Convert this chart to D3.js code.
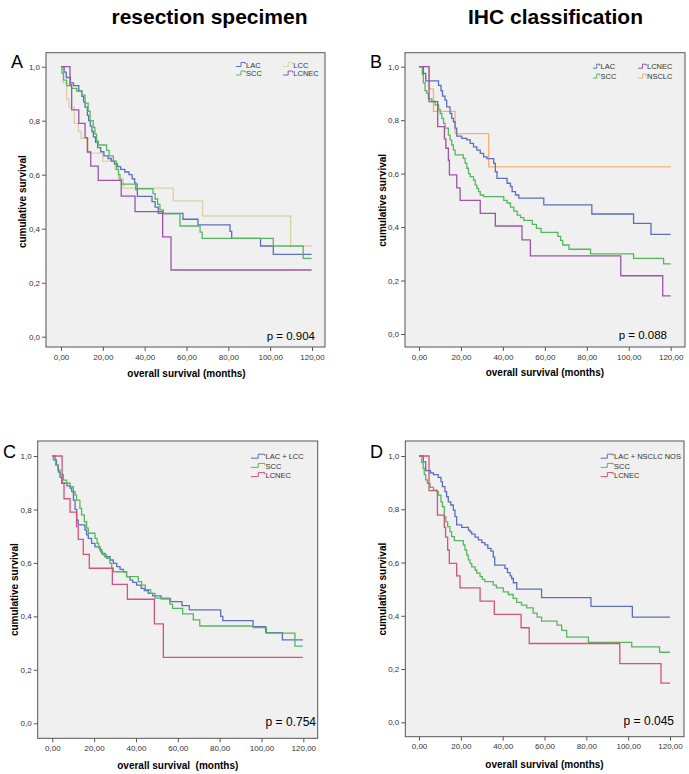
<!DOCTYPE html>
<html><head><meta charset="utf-8">
<script src="https://cdn.jsdelivr.net/npm/d3@7"></script>
<style>
body{margin:0;background:#fff}
svg{display:block}
text{font-family:"Liberation Sans",Arial,Helvetica,sans-serif}
</style>
</head><body>
<svg id="chart" width="689" height="774"></svg>
<script>
// ---------- axis ticks ----------
const xTicks = [0, 20, 40, 60, 80, 100, 120];
const yTicks = [0, 0.2, 0.4, 0.6, 0.8, 1.0];

// ---------- titles / labels ----------
const columnTitles = ["resection specimen", "IHC classification"];
const panelLetters = ["A", "B", "C", "D"];
const pValues = ["p = 0.904", "p = 0.088", "p = 0.754", "p = 0.045"];
const legendA = ["LAC", "SCC", "LCC", "LCNEC"];
const legendB = ["LAC", "SCC", "LCNEC", "NSCLC"];
const legendC = ["LAC + LCC", "SCC", "LCNEC"];
const legendD = ["LAC + NSCLC NOS", "SCC", "LCNEC"];

// ---------- Panel A (resection specimen) ----------
const A_LAC_t = [0,1.5,2.5,4.5,6,8.5,10,10.8,11.5,12.6,13.2,14,14.8,15.5,16.5,17.5,19,20.5,22.5,24,25.5,27,28.5,30.5,32.5,34,35.2,35.8,36.5,43.5,45,46.5,58.3,65.5,80.8,81.6,95.4,101.5,119.8];
const A_LAC_s = [1,0.98,0.96,0.94,0.93,0.91,0.89,0.87,0.85,0.82,0.80,0.78,0.76,0.74,0.72,0.70,0.685,0.67,0.66,0.65,0.64,0.63,0.62,0.61,0.60,0.585,0.57,0.545,0.52,0.50,0.48,0.457,0.435,0.414,0.39,0.364,0.336,0.305,0.305];
const A_SCC_t = [0,0.5,1.2,2.7,5,7.5,9.9,11.5,13,13.9,15.4,16.2,17,17.8,21.8,23,25,26.5,27.5,28.2,29,36.5,44,45,46.2,47.3,48.9,56.9,66.5,67.5,101.5,115.8,119.8];
const A_SCC_s = [1,0.975,0.95,0.93,0.92,0.91,0.895,0.865,0.835,0.80,0.775,0.75,0.725,0.71,0.69,0.67,0.65,0.62,0.60,0.58,0.565,0.548,0.53,0.51,0.49,0.47,0.455,0.41,0.387,0.364,0.336,0.29,0.29];
const A_LCC_t = [0,1.1,2.7,3.8,6.4,8.3,9.6,13,20,25.8,27.4,29.8,53.7,67.7,109.8,119.8];
const A_LCC_s = [1,0.94,0.88,0.85,0.79,0.76,0.735,0.68,0.65,0.62,0.585,0.55,0.503,0.447,0.336,0.336];
const A_LCNEC_t = [0,4.3,5.1,8.5,11.5,12.6,14.2,17.8,28.8,35.4,48.6,52.6,119.8];
const A_LCNEC_s = [1,0.933,0.84,0.79,0.737,0.684,0.632,0.579,0.521,0.463,0.37,0.247,0.247];

// ---------- Panel B (IHC classification) ----------
const B_LAC_t = [0,2.1,3.2,9.3,10.5,11.2,12.4,13.2,14.8,15.6,16.4,17.2,18,20.4,22.8,24.4,26,27.6,29.2,30.8,32.4,35.6,36.4,37.2,42,43.6,44.4,46,47.6,59.5,82.4,102.3,110.6,120];
const B_LAC_s = [1,0.975,0.947,0.93,0.91,0.89,0.875,0.85,0.825,0.807,0.794,0.77,0.74,0.732,0.726,0.713,0.70,0.688,0.676,0.663,0.656,0.638,0.607,0.582,0.564,0.551,0.533,0.52,0.508,0.483,0.449,0.414,0.373,0.373];
const B_SCC_t = [0,1.6,2.1,2.9,3.7,4.5,6.1,7.7,9.3,10.1,10.9,11.7,12.4,14,14.8,15.6,16.4,17.2,21.1,22,22.8,23.6,24.4,26,26.8,27.6,28.4,29.2,30.8,40.4,42,43.6,45.2,46.8,48.4,50,54,56,58.2,66.2,67.5,68.5,71.5,81.8,102.3,116.6,120];
const B_SCC_s = [1,0.97,0.94,0.91,0.90,0.88,0.87,0.857,0.84,0.825,0.807,0.788,0.77,0.744,0.726,0.707,0.688,0.67,0.657,0.638,0.62,0.60,0.589,0.576,0.557,0.545,0.533,0.52,0.514,0.50,0.49,0.475,0.46,0.445,0.435,0.425,0.41,0.395,0.38,0.365,0.35,0.333,0.317,0.30,0.283,0.262,0.262];
const B_LCNEC_t = [0,4.8,8.9,12.1,12.8,14,14.5,18,19.6,29.2,36.4,49.1,53.1,96.2,116.2,120];
const B_LCNEC_s = [1,0.869,0.776,0.73,0.695,0.65,0.595,0.547,0.50,0.451,0.404,0.352,0.292,0.218,0.143,0.143];
const B_NSCLC_t = [0,4.8,6.9,17.2,33.2,120];
const B_NSCLC_s = [1,0.917,0.833,0.75,0.625,0.625];

// ---------- Panel C ----------
const C_LAC_t = [0,1.3,2,2.9,3.7,4.5,7,8.5,9.3,10.1,10.9,11.7,12.4,15.6,16.4,17.2,18.8,20.4,22.8,23.6,25.2,27.6,29.2,30.8,32.4,34,35.5,37.2,38.5,40.3,42.5,44,45.9,48,52,56.5,62,65.5,80.5,81.5,96,102,110,119.8];
const C_LAC_s = [1,0.985,0.966,0.94,0.92,0.898,0.888,0.88,0.867,0.835,0.80,0.76,0.742,0.723,0.705,0.692,0.673,0.66,0.65,0.636,0.623,0.611,0.598,0.586,0.576,0.567,0.549,0.536,0.527,0.517,0.505,0.496,0.486,0.477,0.466,0.455,0.44,0.424,0.40,0.384,0.362,0.339,0.312,0.312];
const C_SCC_t = [0,0.5,1.6,2.6,3.7,5.3,6.9,8.5,10.1,10.9,11.6,13.2,14,15.3,16.4,17.2,20.4,21.4,22.2,23,24,26,27.6,28.4,29.2,35.5,41.1,42.7,44.5,47,49.1,56.2,57.5,62.3,67.4,70.5,96,102.4,116,119.8];
const C_SCC_s = [1,0.985,0.966,0.948,0.93,0.91,0.898,0.885,0.867,0.854,0.835,0.804,0.78,0.754,0.73,0.711,0.692,0.673,0.655,0.642,0.63,0.617,0.598,0.58,0.567,0.549,0.53,0.517,0.50,0.486,0.468,0.446,0.43,0.409,0.387,0.364,0.358,0.337,0.289,0.289];
const C_LCNEC_t = [0,4.7,5.6,8.5,11.6,12.4,14.8,17.7,28.7,35.9,48.8,53.1,119.8];
const C_LCNEC_s = [1,0.898,0.84,0.79,0.736,0.688,0.632,0.58,0.52,0.464,0.372,0.247,0.247];

// ---------- Panel D ----------
const D_LAC_t = [0,2.1,3.2,5.5,6.9,9.2,10.5,11.2,12.4,13.2,14,15.2,16.4,17.2,18,20.4,23.6,24.4,25.2,26.8,28.4,30,31.5,32.9,34.4,35.5,36.2,41.1,42.3,43.5,44.3,45.1,46.7,58.6,82.2,102,110,120];
const D_LAC_s = [1,0.978,0.945,0.937,0.93,0.92,0.904,0.885,0.866,0.847,0.828,0.816,0.797,0.772,0.741,0.732,0.722,0.715,0.707,0.695,0.685,0.675,0.666,0.653,0.643,0.62,0.59,0.578,0.562,0.55,0.54,0.524,0.50,0.468,0.435,0.395,0.395];
const D_SCC_t = [0,1.3,2,2.5,3.2,4,5.3,6.9,8.5,9.2,10.5,11.2,12.1,12.8,13.7,14.8,15.6,16.9,21.2,22,22.8,23.6,24.4,25.2,26.8,27.6,29.2,30.3,31.5,35.5,37,40.3,42.7,45,46.7,49,51.5,54.6,56.5,58.6,66,68.2,70.6,81,101.7,115,120];
const D_SCC_s = [1,0.975,0.954,0.93,0.91,0.897,0.882,0.872,0.866,0.853,0.828,0.81,0.772,0.753,0.735,0.716,0.697,0.682,0.666,0.647,0.628,0.61,0.597,0.584,0.572,0.56,0.547,0.537,0.528,0.515,0.505,0.49,0.48,0.465,0.45,0.44,0.43,0.41,0.395,0.38,0.365,0.345,0.32,0.30,0.283,0.263,0.263];
const D_LCNEC_t = [0,4.8,8.8,12.1,12.7,13.7,14.5,18,19.6,29.2,36,48.8,52.7,96,115.7,120];
const D_LCNEC_s = [1,0.87,0.778,0.732,0.695,0.647,0.597,0.55,0.505,0.455,0.405,0.355,0.296,0.22,0.147,0.147];

// ---------- colours ----------
const COL = {LAC:"#5b6fbd", SCC:"#56b85e", LCC:"#d9d2a6", LCNEC:"#9c55a6", NSCLC:"#f4b26a", LCNEC2:"#d4527e"};

const zip = (t, s) => t.map((v, i) => [v, s[i]]);
const svg = d3.select("#chart");
const tickFont = '"Liberation Sans Narrow","Arial Narrow","Liberation Sans",Arial,sans-serif';

// column titles
svg.append("text").attr("x", 209.5).attr("y", 24).attr("text-anchor", "middle")
  .attr("font-size", 21).attr("font-weight", "bold").text(columnTitles[0]);
svg.append("text").attr("x", 555.5).attr("y", 24).attr("text-anchor", "middle")
  .attr("font-size", 21).attr("font-weight", "bold").text(columnTitles[1]);

const panels = [
  { letter: panelLetters[0], lx: 11, ly: 68, f: [46, 325, 52.7, 347], xr: [61, 312], yr: [336.7, 66.7],
    ytx: 22.5, xty: 377, xtitle: "overall survival (months)", p: pValues[0], px: 315, py: 340, pf: 11.5,
    series: [
      { t: A_LCC_t, s: A_LCC_s, c: COL.LCC },
      { t: A_LAC_t, s: A_LAC_s, c: COL.LAC },
      { t: A_SCC_t, s: A_SCC_s, c: COL.SCC },
      { t: A_LCNEC_t, s: A_LCNEC_s, c: COL.LCNEC }],
    legend: [
      { label: legendA[0], c: COL.LAC, ix: 236, tx: 246, y: 65 },
      { label: legendA[1], c: COL.SCC, ix: 236, tx: 246, y: 73.5 },
      { label: legendA[2], c: COL.LCC, ix: 283, tx: 293.3, y: 65 },
      { label: legendA[3], c: COL.LCNEC, ix: 283, tx: 293.3, y: 73.5 }] },
  { letter: panelLetters[1], lx: 370, ly: 68, f: [405, 685, 52.7, 347], xr: [419, 670.7], yr: [334, 66.7],
    ytx: 382, xty: 376, xtitle: "overall survival (months)", p: pValues[1], px: 667, py: 339, pf: 11.5,
    series: [
      { t: B_NSCLC_t, s: B_NSCLC_s, c: COL.NSCLC },
      { t: B_LAC_t, s: B_LAC_s, c: COL.LAC },
      { t: B_SCC_t, s: B_SCC_s, c: COL.SCC },
      { t: B_LCNEC_t, s: B_LCNEC_s, c: COL.LCNEC }],
    legend: [
      { label: legendB[0], c: COL.LAC, ix: 593, tx: 600.5, y: 66.7 },
      { label: legendB[1], c: COL.SCC, ix: 593, tx: 600.5, y: 76.5 },
      { label: legendB[2], c: COL.LCNEC, ix: 638, tx: 647, y: 66.7 },
      { label: legendB[3], c: COL.NSCLC, ix: 638, tx: 647, y: 76.5 }] },
  { letter: panelLetters[2], lx: 3, ly: 458, f: [37.7, 317.7, 441, 738.3], xr: [52.3, 303.3], yr: [723.3, 456],
    ytx: 14, xty: 769, xtitle: "overall survival\u00A0 (months)", p: pValues[2], px: 316, py: 726, pf: 12,
    series: [
      { t: C_LAC_t, s: C_LAC_s, c: COL.LAC },
      { t: C_SCC_t, s: C_SCC_s, c: COL.SCC },
      { t: C_LCNEC_t, s: C_LCNEC_s, c: COL.LCNEC2 }],
    legend: [
      { label: legendC[0], c: COL.LAC, ix: 251, tx: 265.5, y: 456.7 },
      { label: legendC[1], c: COL.SCC, ix: 251, tx: 265.5, y: 465.9 },
      { label: legendC[2], c: COL.LCNEC2, ix: 251, tx: 265.5, y: 475.1 }] },
  { letter: panelLetters[3], lx: 370, ly: 458, f: [405.3, 684, 441, 736.7], xr: [419, 670], yr: [722.3, 456],
    ytx: 382, xty: 768, xtitle: "overall survival (months)", p: pValues[3], px: 674, py: 725, pf: 12,
    series: [
      { t: D_LAC_t, s: D_LAC_s, c: COL.LAC },
      { t: D_SCC_t, s: D_SCC_s, c: COL.SCC },
      { t: D_LCNEC_t, s: D_LCNEC_s, c: COL.LCNEC2 }],
    legend: [
      { label: legendD[0], c: COL.LAC, ix: 600.7, tx: 614, y: 456.7 },
      { label: legendD[1], c: COL.SCC, ix: 600.7, tx: 614, y: 465.9 },
      { label: legendD[2], c: COL.LCNEC2, ix: 600.7, tx: 614, y: 475.1 }] }
];

panels.forEach(p => {
  const [fx0, fx1, fy0, fy1] = p.f;
  const g = svg.append("g");
  const x = d3.scaleLinear().domain([0, 120]).range(p.xr);
  const y = d3.scaleLinear().domain([0, 1]).range(p.yr);

  g.append("rect").attr("x", fx0).attr("y", fy0).attr("width", fx1 - fx0).attr("height", fy1 - fy0)
    .attr("fill", "#f0f0f0").attr("stroke", "#555").attr("stroke-width", 1);

  const ya = g.append("g").attr("transform", `translate(${fx0},0)`)
    .call(d3.axisLeft(y).tickValues(yTicks).tickSize(4).tickPadding(2)
      .tickFormat(d => d3.format(".1f")(d).replace(".", ",")));
  const xa = g.append("g").attr("transform", `translate(0,${fy1})`)
    .call(d3.axisBottom(x).tickValues(xTicks).tickSize(4).tickPadding(3)
      .tickFormat(d => d3.format(".2f")(d).replace(".", ",")));
  [ya, xa].forEach(a => {
    a.select(".domain").remove();
    a.selectAll(".tick line").attr("stroke", "#555");
    a.selectAll(".tick text").attr("font-size", 8).attr("fill", "#333").style("font-family", tickFont);
  });

  const line = d3.line().x(d => x(d[0])).y(d => y(d[1])).curve(d3.curveStepAfter);
  p.series.forEach(s => {
    g.append("path").attr("d", line(zip(s.t, s.s))).attr("fill", "none")
      .attr("stroke", s.c).attr("stroke-width", 1.3);
  });

  p.legend.forEach(l => {
    const yc = l.y;
    g.append("path")
      .attr("d", `M${l.ix},${yc + 1.5}H${l.ix + (l.tx - l.ix) * 0.5}V${yc - 2.5}H${l.tx - 0.8}V${yc - 1}`)
      .attr("fill", "none").attr("stroke", l.c).attr("stroke-width", 1);
    g.append("text").attr("x", l.tx).attr("y", yc + 2.7).attr("font-size", 7.5).attr("fill", "#333")
      .style("font-family", tickFont).text(l.label);
  });

  g.append("text").attr("x", p.lx).attr("y", p.ly).attr("font-size", 18).text(p.letter);
  g.append("text").attr("transform", `translate(${p.ytx},${(p.yr[0] + p.yr[1]) / 2}) rotate(-90)`)
    .attr("text-anchor", "middle").attr("dy", "0.35em").attr("font-size", 10).attr("font-weight", "bold")
    .text("cumulative survival");
  g.append("text").attr("x", (p.xr[0] + p.xr[1]) / 2).attr("y", p.xty).attr("text-anchor", "middle")
    .attr("font-size", 10).attr("font-weight", "bold").style("white-space", "pre").text(p.xtitle);
  g.append("text").attr("x", p.px).attr("y", p.py).attr("text-anchor", "end")
    .attr("font-size", p.pf).text(p.p);
});
</script>
</body></html>
